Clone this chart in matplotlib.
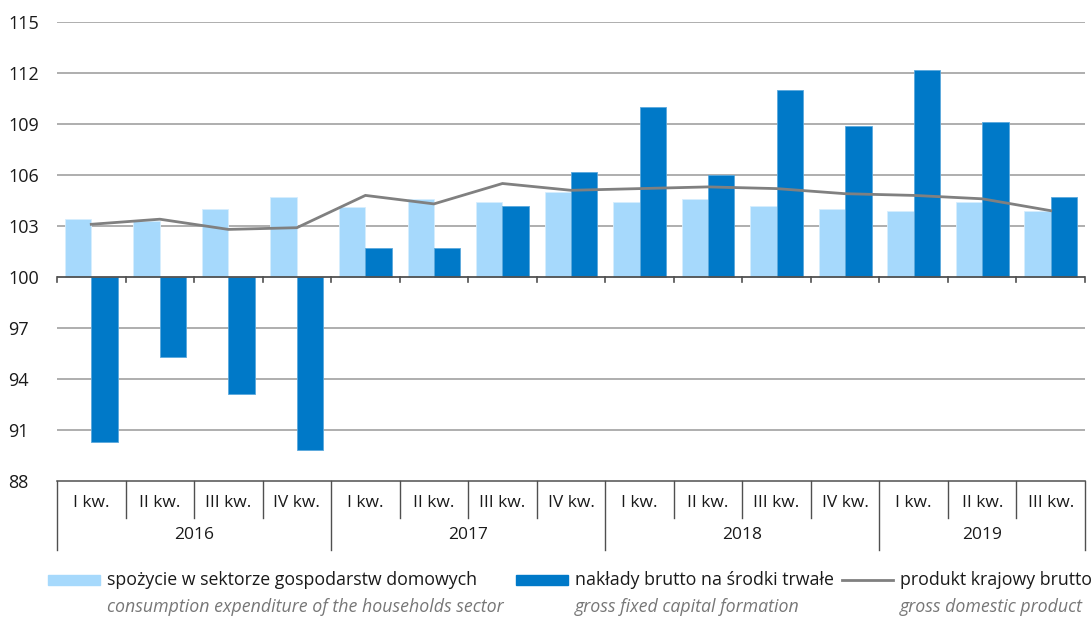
import matplotlib
matplotlib.use("Agg")
import matplotlib.pyplot as plt
import matplotlib.transforms as mtransforms
from matplotlib.patches import Rectangle
from matplotlib.lines import Line2D
import numpy as np

plt.rcParams['font.family'] = ['Open Sans', 'DejaVu Sans']

years = ["2016", "2017", "2018", "2019"]
quarters = ["I kw.", "II kw.", "III kw.", "IV kw.",
            "I kw.", "II kw.", "III kw.", "IV kw.",
            "I kw.", "II kw.", "III kw.", "IV kw.",
            "I kw.", "II kw.", "III kw."]
consumption = [103.4, 103.3, 104.0, 104.7, 104.1, 104.6, 104.4, 105.0,
               104.4, 104.6, 104.2, 104.0, 103.9, 104.4, 103.9]
investment = [90.3, 95.3, 93.1, 89.8, 101.7, 101.7, 104.2, 106.2,
              110.0, 106.0, 111.0, 108.9, 112.2, 109.1, 104.7]
gdp = [103.1, 103.4, 102.8, 102.9, 104.8, 104.3, 105.5, 105.1,
       105.2, 105.3, 105.2, 104.9, 104.8, 104.6, 103.9]
yticks = [88, 91, 94, 97, 100, 103, 106, 109, 112, 115]

legend_pl = ["spożycie w sektorze gospodarstw domowych",
             "nakłady brutto na środki trwałe",
             "produkt krajowy brutto"]
legend_en = ["consumption expenditure of the households sector",
             "gross fixed capital formation",
             "gross domestic product"]

LIGHT = "#a6d9fc"
DARK = "#0079c8"
LINE = "#808080"
GRID = "#a8a8a8"
TXT = "#1a1a1a"

W, H = 1092, 619
fig = plt.figure(figsize=(W / 100, H / 100), dpi=100)
ax = fig.add_axes([57 / W, 1 - 481 / H, (1085 - 57) / W, (481 - 22) / H])

n = len(quarters)
x = np.arange(n)
bw = 0.385
base = 100

ax.bar(x - bw / 2, np.array(consumption) - base, bottom=base, width=bw,
       color=LIGHT, edgecolor="#d6eefe", linewidth=0.6, zorder=3)
ax.bar(x + bw / 2, np.array(investment) - base, bottom=base, width=bw,
       color=DARK, edgecolor="#5aa8dc", linewidth=0.6, zorder=3)
ax.plot(x, gdp, color=LINE, linewidth=2.0, zorder=4, solid_joinstyle='miter')

ax.set_xlim(-0.5, n - 0.5)
ax.set_ylim(88, 115)
ax.set_yticks(yticks)
ax.set_yticklabels([str(t) for t in yticks], fontsize=13, color=TXT, ha='left')
ax.tick_params(axis='y', length=0, pad=35)
ax.set_xticks([])
for s in ax.spines.values():
    s.set_visible(False)

for t in yticks:
    if t in (88, 100):
        continue
    ax.axhline(t, color=GRID, linewidth=1.3, zorder=1)
# baseline at 100 with ticks
ax.axhline(100, color="#505050", linewidth=1.3, zorder=5)
for b in np.arange(-0.5, n, 1.0):
    ax.plot([b, b], [100, 100 - 0.3], color="#505050", linewidth=1.2, zorder=5, clip_on=False)

# category axis at 88
ax.axhline(88, color="#505050", linewidth=1.1, zorder=5, clip_on=False)
blend = mtransforms.blended_transform_factory(ax.transData, ax.transAxes)
axh = 481 - 22
q_depth = (518 - 481) / axh
y_depth = (550 - 481) / axh
for i, b in enumerate(np.arange(-0.5, n + 0.5, 1.0)):
    depth = y_depth if (i % 4 == 0 or i == n) else q_depth
    ax.plot([b, b], [0, -depth], color="#505050", linewidth=1.0,
            transform=blend, clip_on=False)
for i, q in enumerate(quarters):
    ax.text(x[i], -(503 - 481) / axh, q, transform=blend, ha='center', va='center',
            fontsize=12.5, color=TXT)
for j, yr in enumerate(years):
    start = j * 4
    end = min(start + 4, n)
    cx = (start + end - 1) / 2
    ax.text(cx, -(535 - 481) / axh, yr, transform=blend, ha='center', va='center',
            fontsize=12.5, color=TXT)

# legend (manual)
row1 = 1 - 580 / H
row2 = 1 - 607 / H
handles_x = [48, 516, 842]
text_x = [107, 575, 900]
for k in range(3):
    if k < 2:
        col = LIGHT if k == 0 else DARK
        fig.add_artist(Rectangle((handles_x[k] / W, row1 - 5 / H), 52 / W, 10 / H,
                                 transform=fig.transFigure, color=col))
    else:
        fig.add_artist(Line2D([handles_x[k] / W, (handles_x[k] + 51) / W], [row1, row1],
                              transform=fig.transFigure, color=LINE, linewidth=2.0))
    fig.text(text_x[k] / W, row1, legend_pl[k], fontsize=12.8, color=TXT, va='center', ha='left')
    fig.text(text_x[k] / W, row2, legend_en[k], fontsize=12.8, color="#777777",
             va='center', ha='left', style='italic')

fig.savefig("out.png", dpi=100)
